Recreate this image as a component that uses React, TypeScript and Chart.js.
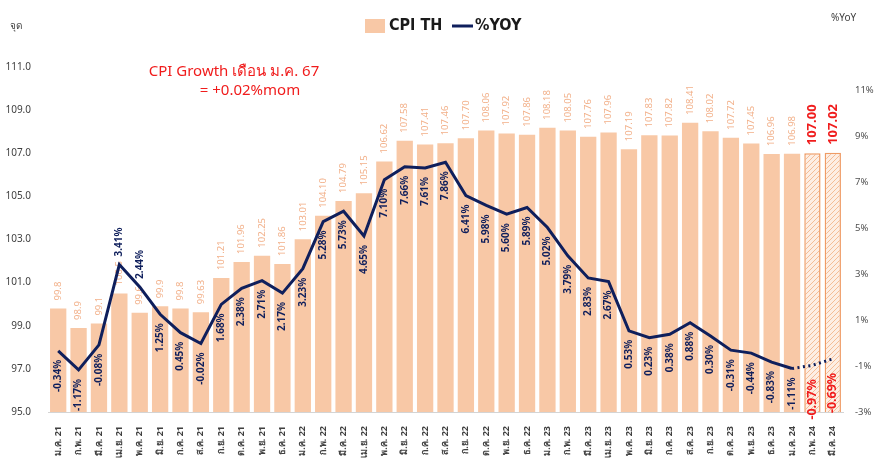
import React, { useEffect, useRef } from "react";
import { Chart, registerables } from "chart.js";

Chart.register(...registerables);

const categories = [
  "ม.ค. 21", "ก.พ. 21", "มี.ค. 21", "เม.ย. 21", "พ.ค. 21", "มิ.ย. 21", "ก.ค. 21", "ส.ค. 21", "ก.ย. 21", "ต.ค. 21", "พ.ย. 21", "ธ.ค. 21",
  "ม.ค. 22", "ก.พ. 22", "มี.ค. 22", "เม.ย. 22", "พ.ค. 22", "มิ.ย. 22", "ก.ค. 22", "ส.ค. 22", "ก.ย. 22", "ต.ค. 22", "พ.ย. 22", "ธ.ค. 22",
  "ม.ค. 23", "ก.พ. 23", "มี.ค. 23", "เม.ย. 23", "พ.ค. 23", "มิ.ย. 23", "ก.ค. 23", "ส.ค. 23", "ก.ย. 23", "ต.ค. 23", "พ.ย. 23", "ธ.ค. 23",
  "ม.ค. 24", "ก.พ. 24", "มี.ค. 24",
];

const cpiText = [
  "99.8", "98.9", "99.1", "100.5", "99.6", "99.9", "99.8", "99.63", "101.21", "101.96", "102.25", "101.86",
  "103.01", "104.10", "104.79", "105.15", "106.62", "107.58", "107.41", "107.46", "107.70", "108.06", "107.92", "107.86",
  "108.18", "108.05", "107.76", "107.96", "107.19", "107.83", "107.82", "108.41", "108.02", "107.72", "107.45", "106.96",
  "106.98", "107.00", "107.02",
];
const cpiValues = cpiText.map(Number);

const yoyValues = [
  -0.34, -1.17, -0.08, 3.41, 2.44, 1.25, 0.45, -0.02, 1.68, 2.38, 2.71, 2.17,
  3.23, 5.28, 5.73, 4.65, 7.10, 7.66, 7.61, 7.86, 6.41, 5.98, 5.60, 5.89,
  5.02, 3.79, 2.83, 2.67, 0.53, 0.23, 0.38, 0.88, 0.30, -0.31, -0.44, -0.83,
  -1.11, -0.97, -0.69,
];

const leftTicks = [95, 97, 99, 101, 103, 105, 107, 109, 111];
const rightTicks = [-3, -1, 1, 3, 5, 7, 9, 11];

const forecastStart = 37; // first projected month index
const yoyAbove = [3, 4]; // labels drawn above the line

const FONT = "'Noto Sans', 'DejaVu Sans', sans-serif";
const BAR = "#f8c8a6";
const BAR_LABEL = "#f2b089";
const NAVY = "#0f1f5c";
const RED = "#f01c1c";

function makePattern(): CanvasPattern | string {
  const c = document.createElement("canvas");
  c.width = 5;
  c.height = 5;
  const g = c.getContext("2d");
  if (!g) return "#fde6d6";
  g.fillStyle = "#fdeee4";
  g.fillRect(0, 0, 5, 5);
  g.strokeStyle = "#f4bd96";
  g.lineWidth = 1;
  g.beginPath();
  g.moveTo(0, 5);
  g.lineTo(5, 0);
  g.moveTo(-2.5, 2.5);
  g.lineTo(2.5, -2.5);
  g.moveTo(2.5, 7.5);
  g.lineTo(7.5, 2.5);
  g.stroke();
  const p = g.createPattern(c, "repeat");
  return p || "#fde6d6";
}

const labelPlugin = {
  id: "customLabels",
  beforeDraw(chart: any) {
    const { ctx, width, height } = chart;
    ctx.save();
    ctx.fillStyle = "#ffffff";
    ctx.fillRect(0, 0, width, height);
    ctx.restore();
  },
  afterDatasetDraw(chart: any, args: any) {
    if (args.index !== 0) return;
    const { ctx } = chart;
    const meta = chart.getDatasetMeta(0);
    ctx.save();
    meta.data.forEach((bar: any, i: number) => {
      const fc = i >= forecastStart;
      ctx.save();
      ctx.translate(bar.x, bar.y - 8);
      ctx.rotate(-Math.PI / 2);
      ctx.textAlign = "left";
      ctx.textBaseline = "middle";
      ctx.fillStyle = fc ? RED : BAR_LABEL;
      ctx.font = fc ? `bold 13px ${FONT}` : `9.5px ${FONT}`;
      ctx.fillText(cpiText[i], 0, 0);
      ctx.restore();
    });
    ctx.restore();
  },
  afterDatasetsDraw(chart: any) {
    const { ctx } = chart;
    const meta = chart.getDatasetMeta(1);
    meta.data.forEach((pt: any, i: number) => {
      const fc = i >= forecastStart;
      const above = yoyAbove.includes(i);
      ctx.save();
      ctx.translate(pt.x, pt.y);
      ctx.rotate(-Math.PI / 2);
      ctx.textBaseline = "middle";
      ctx.fillStyle = fc ? RED : NAVY;
      ctx.font = fc ? `bold 12.5px ${FONT}` : `bold 10px ${FONT}`;
      const txt = yoyValues[i].toFixed(2) + "%";
      if (above) {
        ctx.textAlign = "left";
        ctx.fillText(txt, 8, 0);
      } else {
        ctx.textAlign = "right";
        ctx.fillText(txt, fc ? -14 : -9, 0);
      }
      ctx.restore();
    });
  },
  afterDraw(chart: any) {
    const { ctx } = chart;
    ctx.save();
    // axis titles
    ctx.fillStyle = "#404040";
    ctx.font = `10px ${FONT}`;
    ctx.textAlign = "left";
    ctx.textBaseline = "middle";
    ctx.fillText("จุด", 10, 26);
    ctx.fillText("%YoY", 831, 18);
    // legend
    ctx.fillStyle = BAR;
    ctx.fillRect(365, 19, 20, 14);
    ctx.fillStyle = "#1a1a1a";
    ctx.font = `bold 16px 'Liberation Sans Narrow', 'DejaVu Sans Condensed', ${FONT}`;
    ctx.fillText("CPI TH", 389, 26);
    ctx.strokeStyle = NAVY;
    ctx.lineWidth = 3;
    ctx.beginPath();
    ctx.moveTo(452, 26);
    ctx.lineTo(473, 26);
    ctx.stroke();
    ctx.fillText("%YOY", 475, 26);
    // annotation
    ctx.fillStyle = RED;
    ctx.font = `15px ${FONT}`;
    ctx.textAlign = "center";
    ctx.fillText("CPI Growth เดือน ม.ค. 67", 234, 72);
    ctx.fillText("= +0.02%mom", 250, 91);
    ctx.restore();
  },
};

export default function App() {
  const ref = useRef<HTMLCanvasElement | null>(null);
  useEffect(() => {
    document.body.style.margin = "0";
    const canvas = ref.current;
    if (!canvas) return;
    const pattern = makePattern();
    const chart = new Chart(canvas, {
      type: "bar",
      data: {
        labels: categories,
        datasets: [
          {
            type: "bar",
            label: "CPI TH",
            data: cpiValues,
            yAxisID: "y",
            backgroundColor: cpiValues.map((_, i) => (i >= forecastStart ? pattern : BAR)) as any,
            borderColor: cpiValues.map((_, i) => (i >= forecastStart ? "#ef9c66" : BAR)),
            borderWidth: cpiValues.map((_, i) => (i >= forecastStart ? 1.5 : 0)),
            barPercentage: 0.8,
            categoryPercentage: 1,
            order: 2,
          },
          {
            type: "line",
            label: "%YOY",
            data: yoyValues,
            yAxisID: "y1",
            borderColor: NAVY,
            borderWidth: 3,
            pointRadius: 0,
            tension: 0,
            segment: {
              borderDash: (c: any) => (c.p0DataIndex >= forecastStart - 1 ? [2, 3.5] : undefined),
            },
            order: 1,
          } as any,
        ],
      },
      options: {
        responsive: false,
        animation: false,
        layout: { padding: { top: 67, left: 0, right: 0, bottom: 0 } },
        plugins: { legend: { display: false }, tooltip: { enabled: false } },
        scales: {
          x: {
            grid: { display: false },
            border: { color: "#d4d4d4" },
            ticks: {
              autoSkip: false,
              minRotation: 90,
              maxRotation: 90,
              color: "#404040",
              font: { size: 9, family: FONT, weight: "bold" },
              padding: 6,
            },
            afterFit: (s: any) => {
              s.height = 50;
            },
          },
          y: {
            position: "left",
            min: 95,
            max: 111,
            grid: { display: false },
            border: { display: false },
            afterBuildTicks: (s: any) => {
              s.ticks = leftTicks.map((v) => ({ value: v }));
            },
            ticks: {
              color: "#404040",
              font: { size: 10, family: FONT },
              padding: 9,
              callback: (v: any) => Number(v).toFixed(1),
            },
            afterFit: (s: any) => {
              s.width = 48;
            },
          },
          y1: {
            position: "right",
            min: -3,
            max: 12,
            grid: { display: false },
            border: { display: false },
            afterBuildTicks: (s: any) => {
              s.ticks = rightTicks.map((v) => ({ value: v }));
            },
            ticks: {
              color: "#505050",
              font: { size: 9.5, family: FONT },
              padding: 4,
              callback: (v: any) => `${v}%`,
            },
            afterFit: (s: any) => {
              s.width = 31;
            },
          },
        },
      } as any,
      plugins: [labelPlugin],
    });
    return () => chart.destroy();
  }, []);
  return <canvas ref={ref} width={874} height={462} style={{ display: "block" }} />;
}
